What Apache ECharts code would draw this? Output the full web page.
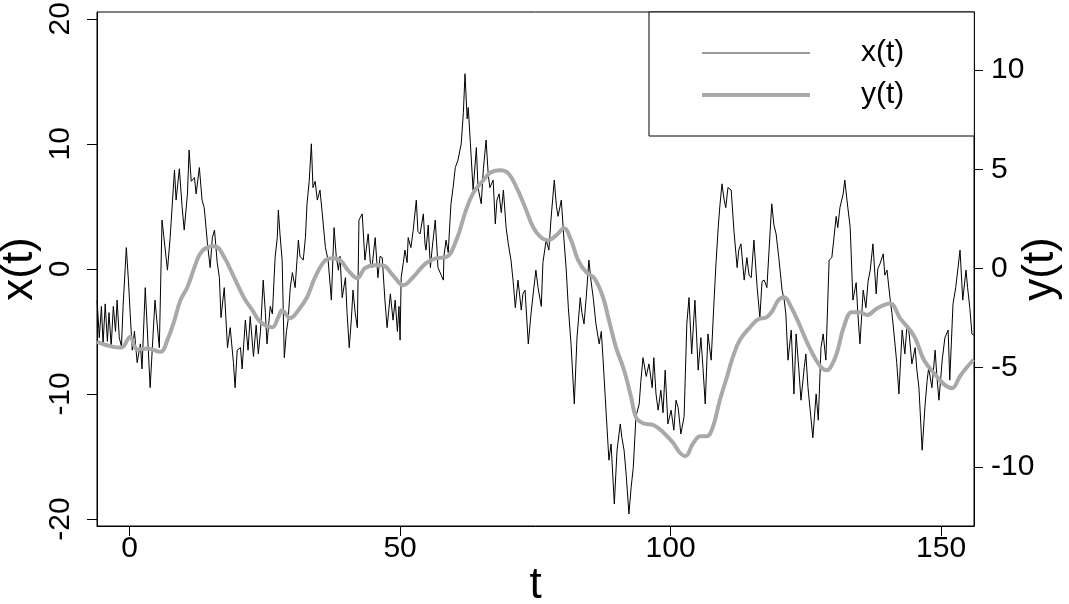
<!DOCTYPE html>
<html>
<head>
<meta charset="utf-8">
<script src="https://cdn.jsdelivr.net/npm/echarts@6/dist/echarts.min.js"></script>
<style>
  html, body { margin: 0; padding: 0; background: #fff; }
  #chart { width: 1069px; height: 604px; }
</style>
</head>
<body>
<div id="chart"></div>
<script>
// x(t): noisy path (t, value)
var xT = [
  -6.0,-5.6,-5.2,-4.9,-4.5,-4.1,-3.8,-3.4,-3.0,-2.6,
  -2.3,-1.9,-1.5,-1.2,-0.6,-0.2,0.1,0.5,0.9,1.4,
  2.0,2.3,2.9,3.8,4.7,5.5,6.0,7.0,7.5,8.3,
  8.6,9.2,9.7,10.1,10.7,11.0,11.4,12.0,12.3,12.9,
  13.4,13.8,14.4,14.9,15.3,15.7,16.2,16.6,16.9,17.5,
  18.1,18.6,19.2,19.5,19.9,20.5,20.8,21.4,21.9,22.3,
  22.9,23.4,23.8,24.2,24.7,25.1,25.4,26.0,26.4,26.9,
  27.3,27.5,27.8,28.2,28.6,29.0,29.3,29.7,30.1,30.6,
  31.2,31.5,32.1,32.5,32.8,33.2,33.6,33.9,34.3,34.7,
  35.2,35.6,36.2,36.7,37.3,37.8,38.2,38.6,38.9,39.3,
  39.9,40.2,40.6,41.0,41.3,41.7,42.1,42.4,43.0,43.5,
  44.1,44.5,44.8,45.4,45.9,46.3,46.7,47.2,47.6,48.2,
  48.7,49.1,49.5,49.8,50.0,50.2,50.6,50.9,51.3,51.5,
  52.0,52.4,53.0,53.3,53.7,54.3,54.6,54.8,55.2,55.6,
  55.9,56.5,56.9,57.0,57.6,58.0,58.1,58.5,58.9,59.4,
  59.8,60.2,60.7,61.3,61.7,62.0,62.4,62.6,63.0,63.5,
  64.1,64.4,65.0,65.4,65.9,66.3,66.6,67.2,67.6,67.9,
  68.3,68.7,69.1,69.6,70.0,70.5,70.9,71.3,71.8,72.4,
  72.7,73.1,73.7,74.2,74.6,75.1,75.5,76.1,76.4,77.0,
  77.5,77.9,78.5,78.9,79.2,79.8,80.3,80.7,81.1,81.6,
  82.2,82.7,83.3,83.6,84.0,84.4,84.9,85.3,85.7,86.2,
  86.8,87.2,87.5,88.1,88.6,89.0,89.6,90.1,90.7,91.0,
  91.4,91.8,92.3,92.7,93.1,93.6,94.2,94.5,94.9,95.5,
  96.0,96.6,96.9,97.3,97.7,98.2,98.6,99.0,99.5,100.1,
  100.6,101.0,101.4,101.9,102.5,103.0,103.4,103.9,104.5,105.1,
  105.6,106.0,106.4,106.9,107.5,108.0,108.4,108.8,109.1,109.5,
  109.9,110.2,110.6,111.2,111.7,112.3,112.6,113.0,113.6,114.1,
  114.5,114.9,115.4,116.0,116.5,116.9,117.3,117.8,118.4,118.7,
  119.1,119.5,120.0,120.6,121.0,121.3,121.7,122.3,122.8,123.2,
  123.7,124.1,124.7,125.0,125.4,125.8,126.3,126.9,127.3,127.8,
  128.2,128.7,129.3,129.8,130.2,130.6,130.9,131.3,131.9,132.2,
  132.6,133.2,133.7,134.3,134.6,135.0,135.6,136.1,136.5,136.9,
  137.4,138.0,138.3,138.7,139.3,139.6,140.0,140.6,140.9,141.3,
  141.8,142.2,142.8,143.3,143.7,144.1,144.6,145.2,145.5,145.9,
  146.5,147.0,147.4,147.7,148.3,148.9,149.2,149.6,150.2,150.7,
  151.3,151.6,152.2,152.7,153.1,153.5,154.0,154.6,154.9,155.3,
  155.7,156.0
];
var xVal = [
  -2.5,-5.5,-3.0,-6.0,-2.8,-5.8,-3.5,-6.2,-3.0,-5.0,
  -2.5,-5.5,-6.2,-3.0,1.7,-1.0,-3.5,-6.5,-5.0,-7.5,
  -6.0,-8.0,-1.5,-9.5,-2.5,-6.3,3.9,-0.1,2.5,7.9,
  5.5,8.0,5.0,3.1,6.0,9.5,7.0,7.3,6.0,8.1,
  5.5,4.9,2.0,0.1,2.5,3.1,0.5,-0.7,-3.9,-1.5,
  -6.3,-4.7,-7.5,-9.5,-6.5,-6.3,-8.0,-4.1,-6.5,-3.8,
  -7.0,-4.5,-6.8,-5.0,-0.9,-3.5,-6.0,-3.0,-3.6,0.9,
  2.5,4.7,2.8,0.7,-7.1,-5.0,-4.1,-1.5,-0.3,-1.5,
  2.3,1.0,0.7,2.5,5.2,7.0,10.0,6.5,7.0,5.5,
  6.3,4.5,1.7,0.7,-2.5,3.3,1.0,-0.1,1.0,-2.3,
  -0.7,-3.5,-6.3,-4.0,-1.7,-3.5,-4.7,3.9,4.4,0.7,
  2.8,0.5,0.1,2.5,-0.7,1.0,0.9,-2.5,-4.7,-2.0,
  -4.1,-2.5,-5.0,-3.0,-5.7,-0.7,0.5,1.5,0.5,2.5,
  1.7,3.0,5.5,3.0,2.8,4.4,2.0,1.5,3.5,0.1,
  1.5,3.9,1.0,0.1,-0.5,-0.9,1.0,2.3,1.3,5.2,
  6.5,8.1,8.7,10.0,12.5,15.6,12.0,12.9,10.0,6.3,
  9.7,6.5,5.2,8.0,10.3,7.5,6.5,7.1,3.6,5.5,
  6.0,4.5,6.3,3.3,2.0,0.7,-1.0,-3.1,-0.9,-3.3,
  -2.0,-1.7,-6.0,-3.6,-2.0,-0.1,-1.5,-3.0,0.5,2.3,
  1.5,4.0,7.1,5.0,4.2,5.5,2.3,0.0,-3.1,-6.0,
  -10.8,-5.5,-2.3,-3.5,-4.4,-2.3,0.7,-1.0,-2.3,-4.4,
  -6.0,-5.0,-7.1,-11.6,-15.3,-14.0,-18.8,-14.5,-12.4,-13.5,
  -14.5,-16.5,-19.6,-17.5,-15.9,-11.8,-10.8,-9.0,-7.1,-8.6,
  -7.6,-9.5,-7.1,-10.0,-11.3,-9.7,-11.5,-8.1,-12.4,-11.3,
  -12.9,-10.5,-11.1,-13.2,-11.8,-4.4,-2.3,-6.8,-2.5,-8.1,
  -5.5,-8.0,-10.8,-5.2,-7.3,-2.8,0.5,3.3,5.0,6.8,
  5.5,4.9,6.5,6.3,3.1,0.1,1.5,2.0,-0.9,0.9,
  -0.5,-0.7,2.3,-1.5,-3.9,-1.0,-0.9,-1.5,3.0,5.2,
  3.5,2.8,0.9,-1.7,-2.5,-3.6,-7.3,-4.9,-10.0,-5.2,
  -8.0,-10.5,-7.9,-6.8,-9.5,-11.3,-13.5,-10.0,-12.1,-6.3,
  -5.2,-7.3,0.7,0.9,2.5,4.2,3.3,4.9,6.0,7.1,
  5.5,3.3,-2.5,-1.1,-3.5,-6.0,-1.7,-3.1,-1.0,-0.1,
  2.0,-2.0,0.0,0.4,1.2,-0.5,-0.1,-2.5,-3.5,-5.2,
  -7.5,-10.0,-4.9,-6.8,-4.5,-5.2,-7.6,-6.3,-8.0,-9.5,
  -14.5,-11.1,-9.0,-7.9,-9.5,-6.5,-8.5,-10.5,-7.3,-5.5,
  -4.9,-8.9,-2.8,-1.5,0.0,1.5,-2.5,-0.1,-1.5,-3.1,
  -5.2,-5.3
];

// y(t): smooth grey curve on the right axis
var yT = [
  -6.0,-3.0,-1.5,0.1,1.4,3.3,5.7,7.0,8.3,9.4,
  10.7,12.0,13.1,14.4,15.8,17.5,19.3,21.2,22.7,24.2,
  26.4,27.5,28.2,29.7,31.2,32.8,34.3,36.2,37.6,38.9,
  40.4,42.1,43.5,45.4,46.7,48.7,50.6,52.4,54.8,56.7,
  58.5,60.4,62.0,63.5,65.4,66.8,68.5,70.0,71.5,73.1,
  74.6,76.1,77.4,78.9,80.3,81.6,82.9,84.4,85.9,87.5,
  88.6,89.9,91.4,92.7,93.6,94.9,96.9,98.8,100.5,101.6,
  102.7,104.2,105.5,106.7,107.8,109.1,110.4,111.5,112.8,114.7,
  116.2,117.8,118.9,119.9,121.0,122.3,123.7,125.2,126.9,128.0,
  128.9,129.8,130.8,132.0,133.5,135.0,136.3,138.2,140.6,142.4,
  145.0,146.8,148.7,150.5,152.0,153.5,154.8,156.0
];
var yVal = [
  -3.70,-3.95,-3.98,-3.45,-4.08,-4.03,-4.20,-3.6,-2.6,-1.6,
  -0.93,0.07,0.77,1.07,1.12,0.57,-0.44,-1.5,-2.1,-2.7,
  -2.96,-2.45,-2.1,-2.5,-2.1,-1.45,-0.44,0.42,0.52,0.42,
  -0.09,-0.49,0.02,0.17,0.17,-0.35,-0.84,-0.44,0.27,0.52,
  0.57,1.43,2.79,3.8,4.45,4.85,4.95,4.8,4.1,3.09,
  2.08,1.55,1.43,1.68,2.03,1.43,0.42,-0.19,-0.49,-1.45,
  -2.6,-3.97,-5.13,-6.48,-7.5,-7.8,-7.9,-8.3,-8.8,-9.25,
  -9.46,-8.8,-8.45,-8.45,-8.0,-6.64,-5.48,-4.47,-3.61,-2.96,
  -2.56,-2.45,-2.1,-1.6,-1.45,-1.95,-2.76,-3.71,-4.62,-5.03,
  -5.13,-4.87,-4.2,-2.96,-2.2,-2.2,-2.35,-2.0,-1.77,-2.5,
  -3.4,-4.6,-5.28,-5.83,-6.03,-5.43,-4.97,-4.6
];

var tTicks = [0, 50, 100, 150];
var xTicks = [-20, -10, 0, 10, 20];
var yTicks = [-10, -5, 0, 5, 10];

function zip(a, b) {
  var out = [];
  var n = Math.min(a.length, b.length);
  for (var i = 0; i < n; i++) out.push([a[i], b[i]]);
  return out;
}

var font = '"Liberation Sans", Arial, Helvetica, sans-serif';
var chart = echarts.init(document.getElementById('chart'));

var option = {
  animation: false,
  backgroundColor: '#fff',
  textStyle: { fontFamily: font, color: '#000' },
  grid: {
    left: 97, right: 95, top: 12, bottom: 78,
    outerBoundsMode: 'none',
    containLabel: false,
    show: true, borderColor: '#000', borderWidth: 1, backgroundColor: 'transparent'
  },
  legend: {
    orient: 'vertical',
    left: 649, top: 12,
    padding: [26, 70, 26, 51],
    itemGap: 12,
    itemWidth: 108,
    itemHeight: 30,
    backgroundColor: '#fff',
    borderColor: '#000',
    borderWidth: 1,
    borderRadius: 0,
    itemStyle: { opacity: 0 },
    textStyle: { fontSize: 30, fontFamily: font, color: '#000', padding: [4, 0, 0, 46] },
    data: [
      { name: 'x(t)', lineStyle: { color: '#000', width: 0.8 } },
      { name: 'y(t)', lineStyle: { color: '#a9a9a9', width: 4 } }
    ]
  },
  xAxis: {
    type: 'value',
    min: -6.02, max: 156.08,
    name: 't', nameLocation: 'middle', nameGap: 38, nameMoveOverlap: false,
    nameTextStyle: { fontSize: 44, color: '#000', fontFamily: font },
    axisLine: { show: true, onZero: false, lineStyle: { color: '#000', width: 1 } },
    axisTick: { show: true, length: 10, customValues: tTicks, lineStyle: { color: '#000', width: 1 } },
    axisLabel: { fontSize: 30, color: '#000', margin: 8, customValues: tTicks, fontFamily: font },
    splitLine: { show: false }
  },
  yAxis: [
    {
      type: 'value',
      position: 'left',
      min: -20.56, max: 20.54,
      name: 'x(t)', nameLocation: 'middle', nameGap: 55, nameMoveOverlap: false,
      nameTextStyle: { fontSize: 44, color: '#000', fontFamily: font },
      axisLine: { show: true, onZero: false, lineStyle: { color: '#000', width: 1 } },
      axisTick: { show: true, length: 10, customValues: xTicks, lineStyle: { color: '#000', width: 1 } },
      axisLabel: { fontSize: 30, color: '#000', margin: 21, rotate: 90, customValues: xTicks, fontFamily: font },
      splitLine: { show: false }
    },
    {
      type: 'value',
      position: 'right',
      min: -12.98, max: 12.93,
      name: 'y(t)', nameLocation: 'middle', nameGap: 45, nameRotate: 90, nameMoveOverlap: false,
      nameTextStyle: { fontSize: 44, color: '#000', fontFamily: font },
      axisLine: { show: true, onZero: false, lineStyle: { color: '#000', width: 1 } },
      axisTick: { show: true, length: 9, customValues: yTicks, lineStyle: { color: '#000', width: 1 } },
      axisLabel: { fontSize: 30, color: '#000', margin: 17, customValues: yTicks, fontFamily: font },
      splitLine: { show: false }
    }
  ],
  series: [
    {
      name: 'x(t)',
      type: 'line',
      yAxisIndex: 0,
      symbol: 'none',
      showSymbol: false,
      data: zip(xT, xVal),
      lineStyle: { color: '#000', width: 1 },
      itemStyle: { color: '#000' },
      z: 2
    },
    {
      name: 'y(t)',
      type: 'line',
      yAxisIndex: 1,
      symbol: 'none',
      showSymbol: false,
      smooth: 0.4,
      data: zip(yT, yVal),
      lineStyle: { color: '#a9a9a9', width: 4 },
      itemStyle: { color: '#a9a9a9' },
      z: 3
    }
  ]
};

chart.setOption(option);
window.addEventListener('resize', function () { chart.resize(); });
</script>
</body>
</html>
